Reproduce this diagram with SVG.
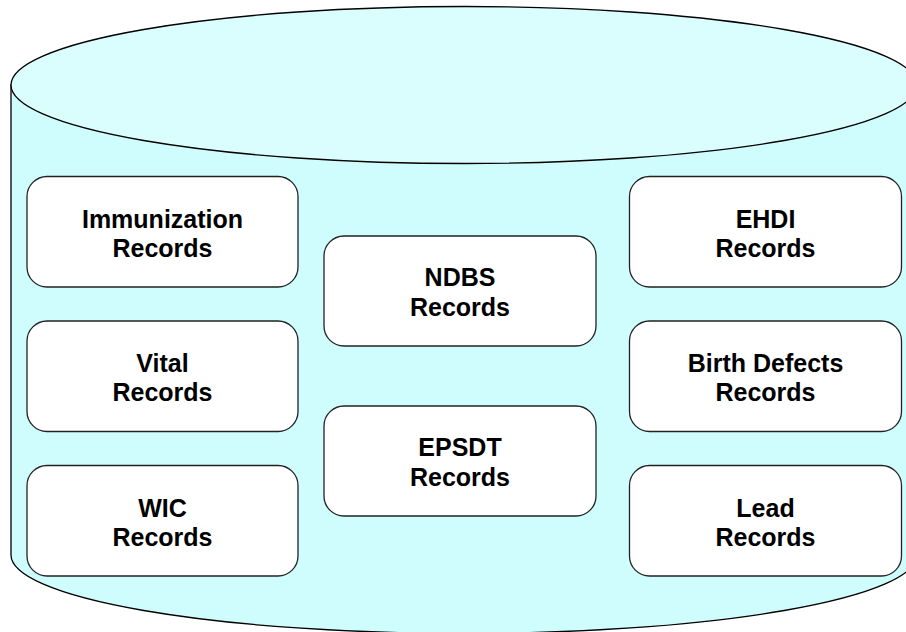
<svg xmlns="http://www.w3.org/2000/svg" width="906" height="632" viewBox="0 0 906 632">
  <style>
    .body { fill: #CFFCFC; stroke: #000; stroke-width: 1.3; }
    .lid { fill: #DAFEFE; stroke: #000; stroke-width: 1.3; }
    .box { fill: #FFFFFF; stroke: #222; stroke-width: 1.3; }
    .label { font-family: "Liberation Sans", Arial, sans-serif; font-weight: bold; font-size: 25px; fill: #000; text-anchor: middle; }
  </style>
  <rect width="906" height="632" fill="#FFFFFF"/>
  <!-- database cylinder -->
  <g id="cylinder">
    <path class="body" d="M11,85 L11,555 A453,78.5 0 0 0 917,555 L917,85 Z"/>
    <ellipse class="lid" cx="464" cy="85" rx="453" ry="78.5"/>
  </g>
  <g id="connectors"></g>
  <!-- left column -->
  <g id="immunization">
    <rect class="box" x="27" y="176.5" width="271" height="110.5" rx="20" ry="20"/>
    <text class="label" x="162.5" y="227.5">Immunization</text>
    <text class="label" x="162.5" y="256.5">Records</text>
  </g>
  <g id="vital">
    <rect class="box" x="27" y="321" width="271" height="110.5" rx="20" ry="20"/>
    <text class="label" x="162.5" y="372">Vital</text>
    <text class="label" x="162.5" y="401">Records</text>
  </g>
  <g id="wic">
    <rect class="box" x="27" y="465.5" width="271" height="110.5" rx="20" ry="20"/>
    <text class="label" x="162.5" y="516.5">WIC</text>
    <text class="label" x="162.5" y="545.5">Records</text>
  </g>
  <!-- middle column -->
  <g id="ndbs">
    <rect class="box" x="324" y="236" width="272" height="110" rx="20" ry="20"/>
    <text class="label" x="460" y="286">NDBS</text>
    <text class="label" x="460" y="316">Records</text>
  </g>
  <g id="epsdt">
    <rect class="box" x="324" y="406" width="272" height="110" rx="20" ry="20"/>
    <text class="label" x="460" y="456">EPSDT</text>
    <text class="label" x="460" y="486">Records</text>
  </g>
  <!-- right column -->
  <g id="ehdi">
    <rect class="box" x="629.5" y="176.5" width="272" height="110.5" rx="20" ry="20"/>
    <text class="label" x="765.5" y="227.5">EHDI</text>
    <text class="label" x="765.5" y="256.5">Records</text>
  </g>
  <g id="birth-defects">
    <rect class="box" x="629.5" y="321" width="272" height="110.5" rx="20" ry="20"/>
    <text class="label" x="765.5" y="372">Birth Defects</text>
    <text class="label" x="765.5" y="401">Records</text>
  </g>
  <g id="lead">
    <rect class="box" x="629.5" y="465.5" width="272" height="110.5" rx="20" ry="20"/>
    <text class="label" x="765.5" y="516.5">Lead</text>
    <text class="label" x="765.5" y="545.5">Records</text>
  </g>
</svg>
